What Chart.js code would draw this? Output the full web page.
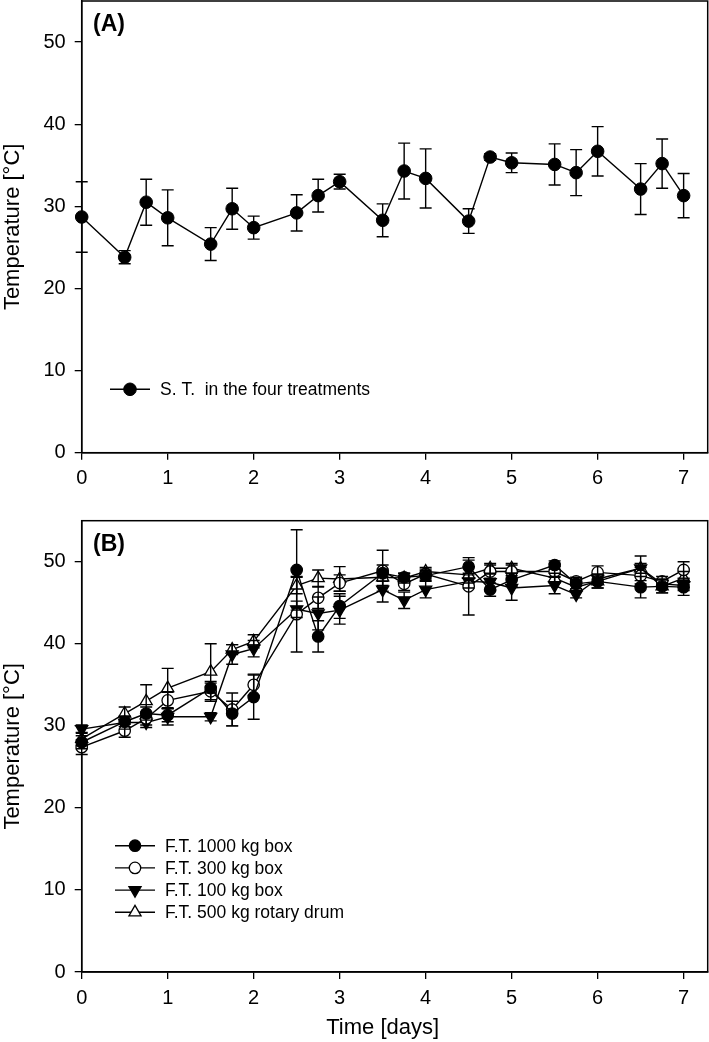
<!DOCTYPE html>
<html lang="en">
<head>
<meta charset="UTF-8" />
<title>Temperature during composting</title>
<script src="https://cdn.jsdelivr.net/npm/chart.js"></script>
<style>
  html, body { margin: 0; background: #fff; overflow: hidden; }
  canvas { position: absolute; left: 0; }
  #chartA { top: -8px; }
  #chartB { top: 505px; }
</style>
</head>
<body>
<canvas id="chartA" width="718" height="513"></canvas>
<canvas id="chartB" width="718" height="537"></canvas>
<script>
// sampling times (days), same for both panels
const times = [0, 0.5, 0.75, 1, 1.5, 1.75, 2, 2.5, 2.75, 3, 3.5, 3.75, 4, 4.5, 4.75, 5, 5.5, 5.75, 6, 6.5, 6.75, 7];
const xTicks = [0, 1, 2, 3, 4, 5, 6, 7];
const yTicks = [0, 10, 20, 30, 40, 50];

// (A) S.T. in the four treatments
const stMean = [28.7, 23.8, 30.5, 28.6, 25.4, 29.7, 27.4, 29.2, 31.3, 33.0, 28.3, 34.3, 33.4, 28.2, 36.0, 35.3, 35.1, 34.1, 36.7, 32.1, 35.2, 31.3];
const stSd   = [4.3, 0.8, 2.8, 3.4, 2.0, 2.5, 1.4, 2.2, 2.0, 0.9, 2.0, 3.4, 3.6, 1.5, 0.4, 1.2, 2.5, 2.8, 3.0, 3.1, 3.0, 2.7];

// (B) F.T. per treatment
const ft1000 = [28.0, 30.5, 31.5, 31.3, 34.6, 31.5, 33.5, 49.0, 40.9, 44.6, 48.6, 48.1, 48.3, 49.4, 46.6, 47.8, 49.6, 47.3, 47.6, 46.9, 47.0, 46.9];
const sd1000 = [0.8, 0.6, 0.8, 0.8, 0.6, 1.5, 2.7, 4.9, 1.9, 1.5, 1.0, 0.5, 0.6, 0.8, 0.8, 0.8, 0.5, 0.6, 0.8, 1.3, 0.8, 1.0];
const ft300  = [27.4, 29.4, 30.9, 33.1, 34.2, 32.0, 35.0, 43.6, 45.6, 47.4, 48.9, 47.3, 48.5, 47.0, 48.8, 48.8, 48.8, 47.6, 48.7, 48.3, 47.6, 49.0];
const sd300  = [0.9, 0.8, 0.8, 1.0, 1.2, 2.0, 1.3, 4.6, 1.3, 1.0, 2.5, 0.8, 0.6, 3.5, 0.8, 0.8, 0.6, 0.5, 0.8, 1.0, 0.6, 1.0];
const ft100  = [29.6, 30.4, 30.4, 31.1, 31.1, 38.7, 39.4, 44.2, 43.7, 44.1, 46.6, 45.3, 46.6, 47.6, 47.5, 46.8, 47.1, 46.0, 47.9, 49.2, 47.3, 47.1];
const sd100  = [0.5, 0.8, 0.6, 1.0, 0.5, 1.2, 1.0, 1.0, 2.0, 1.7, 1.5, 1.0, 1.0, 0.8, 1.0, 1.5, 1.0, 0.4, 0.6, 0.6, 0.6, 0.6];
const ft500  = [28.4, 31.5, 33.0, 34.6, 36.6, 39.3, 40.3, 47.1, 48.0, 47.9, 48.1, 48.0, 48.8, 48.4, 49.2, 49.2, 48.0, 46.9, 47.6, 49.2, 47.0, 48.0];
const sd500  = [0.8, 0.8, 2.0, 2.4, 3.4, 0.6, 0.8, 1.0, 1.0, 1.5, 1.0, 0.6, 0.5, 1.0, 0.6, 0.6, 0.6, 0.5, 0.8, 1.5, 0.8, 0.8];

const FONT = "'Liberation Sans', Arial, sans-serif";
const toPoints = vals => vals.map((v, i) => ({ x: times[i], y: v }));

const series = (label, vals, errs, style) => Object.assign({
  label,
  data: toPoints(vals),
  errors: errs,
  borderColor: '#000',
  borderWidth: 1.4,
  tension: 0,
  clip: false,
  pointBorderColor: '#000',
  pointBorderWidth: 1.3,
  pointRadius: 5.7,
  pointHoverRadius: 5.7
}, style);

// vertical error bars with caps, drawn through the y scale
const errorBars = {
  id: 'errorBars',
  afterDatasetsDraw(chart) {
    const { ctx } = chart;
    const y = chart.scales.y;
    const cap = 6;
    ctx.save();
    ctx.strokeStyle = '#000';
    ctx.lineWidth = 1.4;
    chart.data.datasets.forEach((ds, i) => {
      chart.getDatasetMeta(i).data.forEach((pt, j) => {
        const v = ds.data[j].y, e = ds.errors[j];
        const top = y.getPixelForValue(v + e), bot = y.getPixelForValue(v - e);
        ctx.beginPath();
        ctx.moveTo(pt.x, top); ctx.lineTo(pt.x, bot);
        ctx.moveTo(pt.x - cap, top); ctx.lineTo(pt.x + cap, top);
        ctx.moveTo(pt.x - cap, bot); ctx.lineTo(pt.x + cap, bot);
        ctx.stroke();
      });
    });
    ctx.restore();
  }
};

// closed frame round the plot area
const frame = {
  id: 'frame',
  beforeDatasetsDraw(chart) {
    const { ctx, chartArea: a } = chart;
    ctx.save();
    ctx.strokeStyle = '#000';
    ctx.lineWidth = 1.5;
    ctx.strokeRect(a.left, a.top, a.right - a.left, a.bottom - a.top);
    ctx.restore();
  }
};

// panel tag, in-plot legend and x title
const extras = {
  id: 'extras',
  afterDraw(chart, args, opts) {
    const { ctx } = chart;
    ctx.save();
    ctx.fillStyle = '#000';
    ctx.textBaseline = 'middle';
    ctx.font = 'bold 23px ' + FONT;
    ctx.fillText(opts.tag, opts.tagX, opts.tagY);

    ctx.font = '17.5px ' + FONT;
    chart.data.datasets.forEach((ds, i) => {
      const ly = opts.legY + i * 22.2;
      ctx.strokeStyle = '#000';
      ctx.lineWidth = 1.4;
      ctx.beginPath();
      ctx.moveTo(opts.legX, ly); ctx.lineTo(opts.legX + 40, ly);
      ctx.stroke();
      ctx.fillStyle = ds.pointBackgroundColor;
      ctx.lineWidth = ds.pointBorderWidth;
      Chart.helpers.drawPoint(ctx, {
        pointStyle: ds.pointStyle, radius: ds.pointRadius,
        rotation: ds.pointRotation || 0, borderWidth: ds.pointBorderWidth
      }, opts.legX + 20, ly);
      ctx.fillStyle = '#000';
      ctx.fillText(ds.label, opts.legX + 50, ly + 1);
    });

    if (opts.xTitle) {
      const x = chart.scales.x;
      const cx = (x.getPixelForValue(xTicks[0]) + x.getPixelForValue(xTicks[xTicks.length - 1])) / 2;
      ctx.font = '22px ' + FONT;
      ctx.textAlign = 'center';
      ctx.fillText(opts.xTitle, cx, opts.xTitleY);
    }
    ctx.restore();
  }
};

const noPad = s => { s.paddingTop = 0; s.paddingBottom = 0; s.paddingLeft = 0; s.paddingRight = 0; };

const makeScales = xHeight => ({
  x: {
    type: 'linear', min: 0, max: 7.28,
    afterBuildTicks: s => { s.ticks = xTicks.map(v => ({ value: v })); },
    afterFit: s => { s.height = xHeight; noPad(s); },
    grid: { drawOnChartArea: false, color: '#000', tickLength: 7, lineWidth: 1.3 },
    border: { color: '#000', width: 1.5 },
    ticks: { color: '#000', font: { family: FONT, size: 20 }, padding: 7, maxRotation: 0 }
  },
  y: {
    min: 0, max: 55,
    afterBuildTicks: s => { s.ticks = yTicks.map(v => ({ value: v })); },
    afterFit: s => { s.width = 81.7; noPad(s); },
    grid: { drawOnChartArea: false, color: '#000', tickLength: 7, lineWidth: 1.3 },
    border: { color: '#000', width: 1.5 },
    ticks: { color: '#000', font: { family: FONT, size: 20 }, padding: 9 },
    title: { display: true, text: 'Temperature [°C]', color: '#000', font: { family: FONT, size: 22 }, padding: 0 }
  }
});

// canvases are 718 wide so the plot's right edge lands at 707.7 on the page
const baseOptions = (padTop, xHeight, extraOpts) => ({
  responsive: false,
  animation: false,
  layout: { padding: { top: padTop, right: 10.3, left: 0, bottom: 0 } },
  scales: makeScales(xHeight),
  plugins: { legend: { display: false }, tooltip: { enabled: false }, extras: extraOpts }
});

// canvas A starts 8px above the page, hence the +8 offsets
new Chart(document.getElementById('chartA'), {
  type: 'line',
  data: {
    datasets: [
      series('S. T.  in the four treatments', stMean, stSd, {
        pointStyle: 'circle', pointRadius: 6.3, pointBackgroundColor: '#000', pointBorderWidth: 1
      })
    ]
  },
  options: baseOptions(9, 52.3, { tag: '(A)', tagX: 93, tagY: 33, legX: 110, legY: 397.3 }),
  plugins: [frame, errorBars, extras]
});

new Chart(document.getElementById('chartB'), {
  type: 'line',
  data: {
    datasets: [
      series('F.T. 1000 kg box', ft1000, sd1000, { pointStyle: 'circle', pointBackgroundColor: '#000' }),
      series('F.T. 300 kg box', ft300, sd300, { pointStyle: 'circle', pointBackgroundColor: '#fff' }),
      series('F.T. 100 kg box', ft100, sd100, { pointStyle: 'triangle', pointRotation: 180, pointRadius: 7, pointBackgroundColor: '#000' }),
      series('F.T. 500 kg rotary drum', ft500, sd500, { pointStyle: 'triangle', pointRadius: 7, pointBackgroundColor: '#fff' })
    ]
  },
  options: baseOptions(15.7, 70, { tag: '(B)', tagX: 93, tagY: 40, legX: 115, legY: 340.7, xTitle: 'Time [days]', xTitleY: 523 }),
  plugins: [frame, errorBars, extras]
});
</script>
</body>
</html>
